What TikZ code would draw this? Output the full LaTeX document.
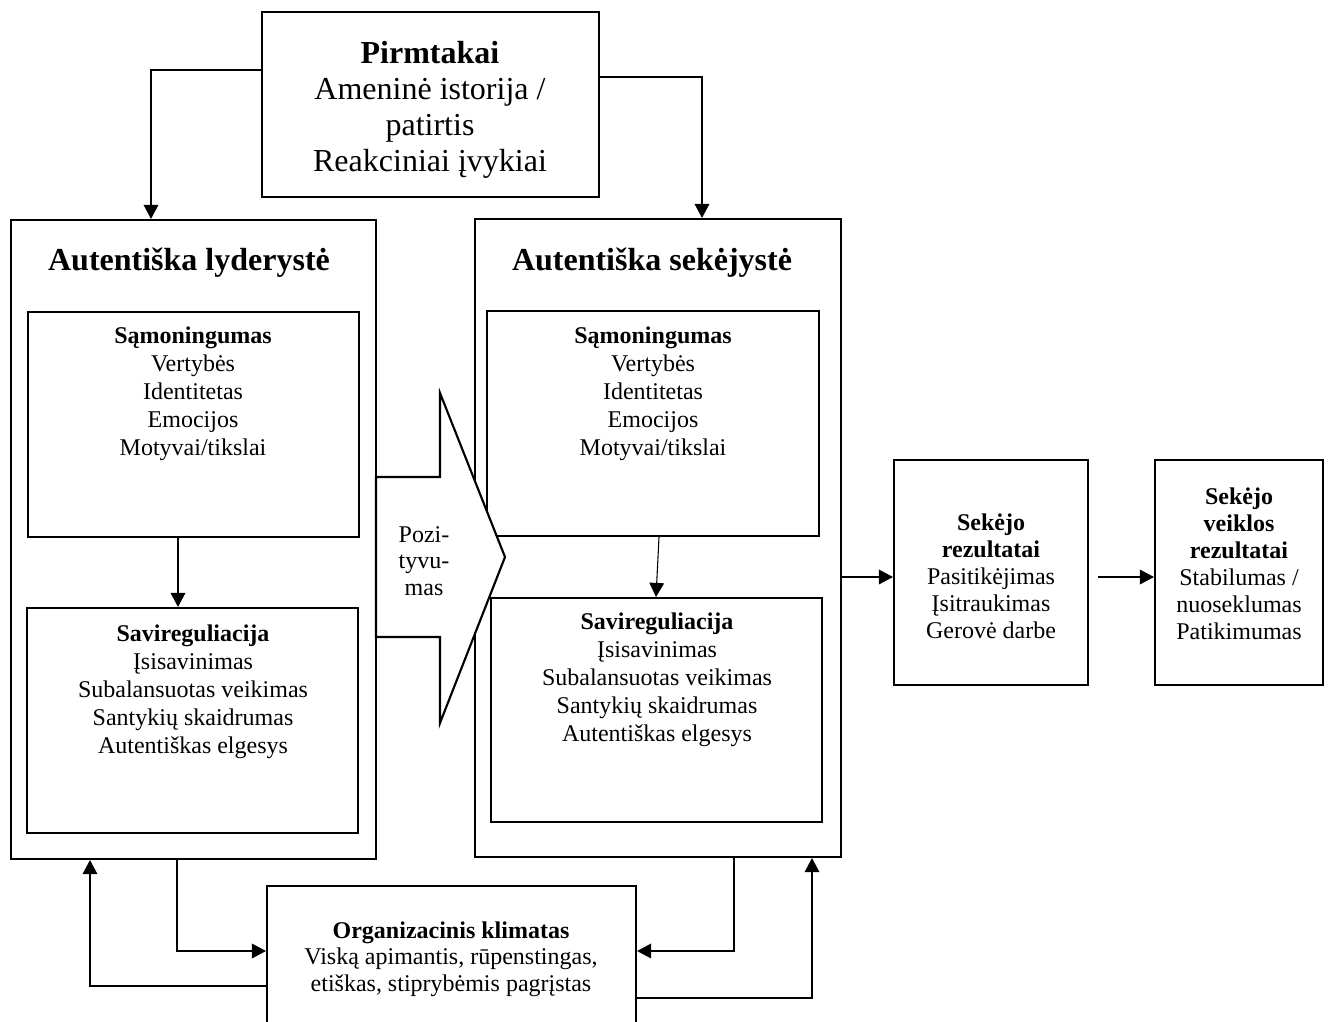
\documentclass[tikz,border=0pt]{standalone}
\usepackage{fontspec}
\setmainfont{Liberation Serif}
\usetikzlibrary{arrows.meta}

\tikzset{
  box/.style={draw, line width=1.6pt, inner sep=0pt},
  bw/.style={minimum width=#1*0.75pt},
  bh/.style={minimum height=#1*0.75pt},
  txt/.style={align=center, inner sep=0pt, font=\fontsize{18}{21}\selectfont},
  head/.style={inner sep=0pt, font=\fontsize{24}{27}\selectfont\bfseries},
  conn/.style={line width=0.8pt, -{Triangle[length=10.5pt,width=11pt]}},
}

\begin{document}
\begin{tikzpicture}[x=0.75pt, y=-0.75pt]
		\useasboundingbox (0,0) rectangle (1331,1021);
		\clip (0,0) rectangle (1331,1021);
		
		% pirmtakai
		\node[box, bw=337, bh=185] (pirm) at (430.5,104.5) {};
		\node[txt, font=\fontsize{24}{27}\selectfont] (pirm-t) at (430,110) {\textbf{Pirmtakai}\\Ameninė istorija /\\patirtis\\Reakciniai įvykiai};
		
		% lyderyste
		\node[box, bw=365, bh=639] (lyd) at (193.5,539.5) {};
		\node[head] (lyd-t) at (189,263) {Autentiška lyderystė};
		\node[box, bw=331, bh=225] (samL) at (193.5,424.5) {};
		\node[txt] (samL-t) at (193,394) {\textbf{Sąmoningumas}\\Vertybės\\Identitetas\\Emocijos\\Motyvai/tikslai};
		\node[box, bw=331, bh=225] (savL) at (192.5,720.5) {};
		\node[txt] (savL-t) at (193,692) {\textbf{Savireguliacija}\\Įsisavinimas\\Subalansuotas veikimas\\Santykių skaidrumas\\Autentiškas elgesys};
		
		% sekejyste
		\node[box, bw=366, bh=638] (sek) at (658,538) {};
		\node[head] (sek-t) at (652,263) {Autentiška sekėjystė};
		\node[box, bw=332, bh=225] (samR) at (653,423.5) {};
		\node[txt] (samR-t) at (653,394) {\textbf{Sąmoningumas}\\Vertybės\\Identitetas\\Emocijos\\Motyvai/tikslai};
		\node[box, bw=331, bh=224] (savR) at (656.5,710) {};
		\node[txt] (savR-t) at (657,680) {\textbf{Savireguliacija}\\Įsisavinimas\\Subalansuotas veikimas\\Santykių skaidrumas\\Autentiškas elgesys};
		
		% rezultatai
		\node[box, bw=194, bh=225] (res1) at (991,572.5) {};
		\node[txt, font=\fontsize{18}{20.25}\selectfont] (res1-t) at (991,576) {\textbf{Sekėjo}\\\textbf{rezultatai}\\Pasitikėjimas\\Įsitraukimas\\Gerovė darbe};
		\node[box, bw=168, bh=225] (res2) at (1239,572.5) {};
		\node[txt, font=\fontsize{18}{20.25}\selectfont] (res2-t) at (1239,564) {\textbf{Sekėjo}\\\textbf{veiklos}\\\textbf{rezultatai}\\Stabilumas /\\nuoseklumas\\Patikimumas};
		
		% klimatas
		\node[box, bw=369, bh=200] (org) at (451.5,986) {};
		\node[txt, font=\fontsize{18}{20}\selectfont] (org-t) at (451,959) {\textbf{Organizacinis klimatas}\\Viską apimantis, rūpenstingas,\\etiškas, stiprybėmis pagrįstas};
		
		% pozityvumas
		\draw[line width=1.6pt, fill=white] (376,477) -- (440,477) -- (440,393) -- (505,557) -- (440,723) -- (440,637) -- (376,637) -- cycle;
		\node[txt, font=\fontsize{18}{20}\selectfont] (poz) at (424,561) {Pozi-\\tyvu-\\mas};
		
		% connectors
		\coordinate (k1) at (151,70);
		\coordinate (k2) at (702,77);
		\draw[conn] (pirm.west |- k1) -- (k1) -- (k1 |- lyd.north);
		\draw[conn] (pirm.east |- k2) -- (k2) -- (k2 |- sek.north);
		
		\coordinate (k3) at (178,0);
		\coordinate (k4) at (659,0);
		\coordinate (k5) at (656,0);
		\draw[conn] (samL.south -| k3) -- (savL.north -| k3);
		\draw[conn] (samR.south -| k4) -- (savR.north -| k5);
		
		\coordinate (k6) at (0,577);
		\draw[conn] (sek.east |- k6) -- (res1.west |- k6);
		\draw[conn] ([xshift=7pt]res1.east |- k6) -- (res2.west |- k6);
		
		\coordinate (b1) at (177,951);
		\coordinate (b2) at (90,986);
		\coordinate (b3) at (734,951);
		\coordinate (b4) at (812,998);
		\draw[conn] (lyd.south -| b1) -- (b1) -- (b1 -| org.west);
		\draw[conn] (b2 -| org.west) -- (b2) -- (b2 |- lyd.south);
		\draw[conn] (sek.south -| b3) -- (b3) -- (b3 -| org.east);
		\draw[conn] (b4 -| org.east) -- (b4) -- (b4 |- sek.south);
	\end{tikzpicture}
\end{document}
